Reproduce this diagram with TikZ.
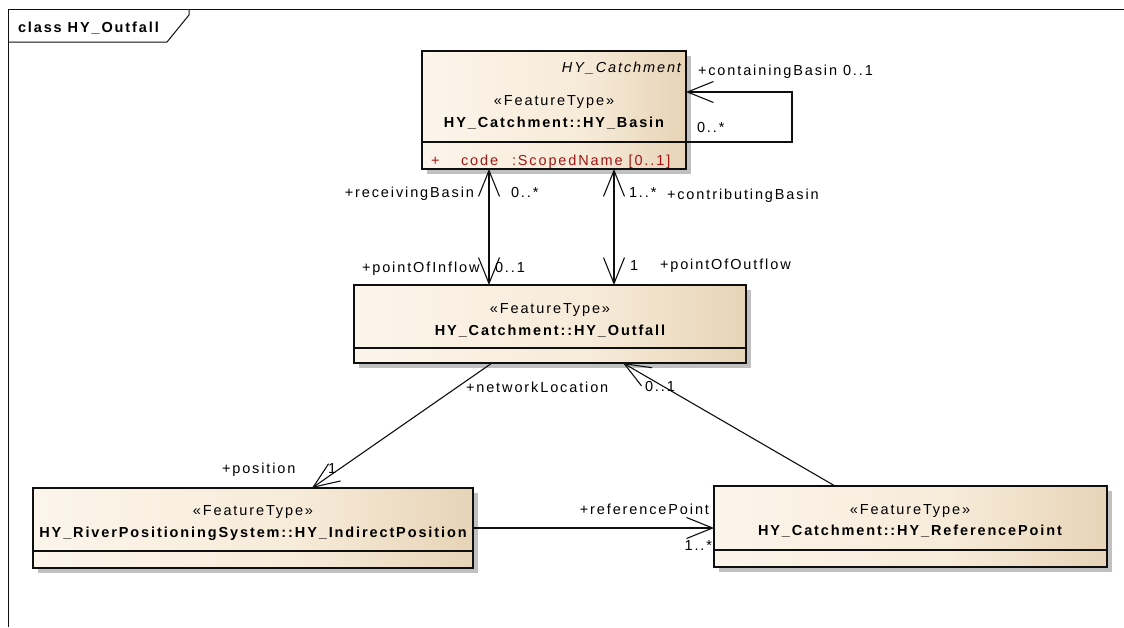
\documentclass[tikz,border=0pt]{standalone}
\usepackage{fontspec}
\setmainfont[LetterSpace=13]{Liberation Sans}
\usetikzlibrary{arrows.meta,calc,shadows}
\definecolor{boxL}{RGB}{252,245,235}
\definecolor{boxM}{RGB}{247,235,217}
\definecolor{boxR}{RGB}{231,212,183}
\definecolor{attr}{RGB}{163,21,21}
\definecolor{ink}{RGB}{15,15,15}
\definecolor{shadowgray}{RGB}{192,192,192}
\pgfdeclarehorizontalshading{boxgrad}{100bp}{color(0bp)=(boxL); color(25bp)=(boxL); color(55bp)=(boxM); color(75bp)=(boxR); color(100bp)=(boxR)}
\newcommand\dgsize{\fontsize{14.5pt}{16pt}\selectfont}
\begin{document}
\begin{tikzpicture}[x=1pt,y=-1pt,
  every node/.style={font=\dgsize, inner sep=0pt, outer sep=0pt, text height=10.4pt, text depth=0pt},
  cls/.style={draw=ink, line width=1.3pt, shade, shading=boxgrad, anchor=north west,
    drop shadow={shadow xshift=5pt, shadow yshift=-5pt, fill=shadowgray, opacity=1}},
  sep/.style={draw=ink, line width=1.3pt},
  bold/.style={font=\dgsize\bfseries},
  ital/.style={font=\dgsize\itshape},
  role/.style={anchor=west},
  roler/.style={anchor=east},
  attrtxt/.style={anchor=west, text=attr},
  assoc/.style={draw=ink, line width=1.1pt},
  navto/.style={-{Straight Barb[length=26pt,width=21pt]}},
  navboth/.style={{Straight Barb[length=26pt,width=21pt]}-{Straight Barb[length=26pt,width=21pt]}},
  frameline/.style={draw=ink, line width=1pt}]

\useasboundingbox (0,0) rectangle (1124,627);
\fill[white] (0,0) rectangle (1124,627);

% diagram frame and its name tab
\draw[frameline] (8,627) -- (8,9) -- (1124,9);
\draw[frameline] (8,42) -- (167,42) -- (189,15) -- (189,9);
\node[bold, anchor=west] (title) at (18,27) {class HY\_Outfall};

% HY_Basin
\node[cls, minimum width=264pt, minimum height=118pt] (basin) at (422,51) {};
\draw[sep] ($(basin.north west)+(0,91)$) -- ($(basin.north east)+(0,91)$);
\node[ital, anchor=east] (basin-ns) at (681,67) {HY\_Catchment};
\node (basin-st) at (554,100) {«FeatureType»};
\node[bold] (basin-nm) at (554,122) {HY\_Catchment::HY\_Basin};
\node[attrtxt] (attr-vis) at (431,160) {+};
\node[attrtxt] (attr-name) at (461,160) {code};
\node[attrtxt] (attr-type) at (512,160) {:ScopedName [0..1]};

% HY_Outfall
\node[cls, minimum width=392pt, minimum height=78pt] (outfall) at (354,285) {};
\draw[sep] ($(outfall.north west)+(0,63)$) -- ($(outfall.north east)+(0,63)$);
\node (outfall-st) at (550,308) {«FeatureType»};
\node[bold] (outfall-nm) at (550,330) {HY\_Catchment::HY\_Outfall};

% HY_IndirectPosition
\node[cls, minimum width=440pt, minimum height=80pt] (indirect) at (33,488) {};
\draw[sep] ($(indirect.north west)+(0,63)$) -- ($(indirect.north east)+(0,63)$);
\node (indirect-st) at (253,510) {«FeatureType»};
\node[bold] (indirect-nm) at (253,532) {HY\_RiverPositioningSystem::HY\_IndirectPosition};

% HY_ReferencePoint
\node[cls, minimum width=393pt, minimum height=81pt] (refpt) at (714,486) {};
\draw[sep] ($(refpt.north west)+(0,64)$) -- ($(refpt.north east)+(0,64)$);
\node (refpt-st) at (910,509) {«FeatureType»};
\node[bold] (refpt-nm) at (910,530) {HY\_Catchment::HY\_ReferencePoint};

% associations
\draw[assoc, navto] ($(basin.north east)+(0,91)$) -- ++(106,0) -- ++(0,-50) -- ($(basin.north east)+(0,41)$);
\draw[assoc, navboth] ($(basin.south west)+(67,0)$) -- ($(outfall.north west)+(135,0)$);
\draw[assoc, navboth] ($(basin.south west)+(192,0)$) -- ($(outfall.north west)+(260,0)$);
\draw[assoc, navto] ($(outfall.south west)+(138,0)$) -- ($(indirect.north west)+(279,0)$);
\draw[assoc, navto] ($(refpt.north west)+(121,0)$) -- ($(outfall.south west)+(269,0)$);
\draw[assoc, navto] ($(indirect.north east)+(0,40)$) -- ($(refpt.north west)+(0,42)$);

% role names and multiplicities
\node[role] (l-contain) at (698,70) {+containingBasin 0..1};
\node[role] (m-contain) at (697,127) {0..*};
\node[roler] (l-recv) at (474,192) {+receivingBasin};
\node[role] (m-recv) at (511,192) {0..*};
\node[role] (m-contrib) at (629,192) {1..*};
\node[role] (l-contrib) at (667,194) {+contributingBasin};
\node[role] (l-inflow) at (362,267) {+pointOfInflow};
\node[role] (m-inflow) at (495,267) {0..1};
\node[role] (m-outflow) at (630,265) {1};
\node[role] (l-outflow) at (660,264) {+pointOfOutflow};
\node[role] (l-netloc) at (466,387) {+networkLocation};
\node[role] (m-netloc) at (645,386) {0..1};
\node[role] (l-pos) at (222,468) {+position};
\node[role] (m-pos) at (328,468) {1};
\node[roler] (l-refpt) at (709,509) {+referencePoint};
\node[roler] (m-refpt) at (712,545) {1..*};
\end{tikzpicture}
\end{document}
